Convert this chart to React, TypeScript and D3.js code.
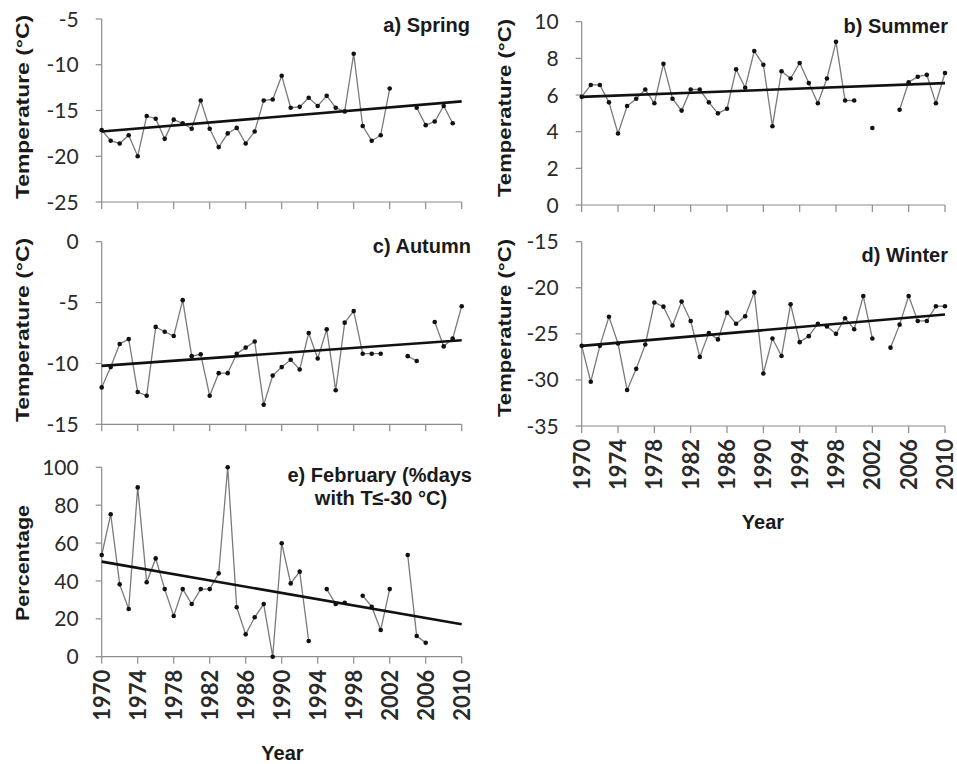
import React from 'react';
import * as d3 from 'd3';

// years 1970..2010, null = missing year
const years = d3.range(1970, 2011);
const trendYears = [1970, 2010];

const spring = [-17.15, -18.3, -18.6, -17.7, -20.0, -15.6, -15.9, -18.1, -16.0, -16.4,
  -17.0, -13.9, -17.0, -19.0, -17.5, -16.9, -18.6, -17.3, -13.9, -13.8,
  -11.2, -14.7, -14.6, -13.6, -14.5, -13.4, -14.7, -15.1, -8.8, -16.7,
  -18.3, -17.7, -12.6, null, null, -14.7, -16.6, -16.2, -14.5, -16.4, null];
const springTrend = [-17.3, -14.0];

const summer = [5.9, 6.55, 6.55, 5.6, 3.9, 5.4, 5.8, 6.3, 5.55, 7.7,
  5.8, 5.15, 6.3, 6.3, 5.6, 5.0, 5.25, 7.4, 6.4, 8.4,
  7.65, 4.3, 7.3, 6.9, 7.75, 6.65, 5.55, 6.9, 8.9, 5.7,
  5.7, null, 4.2, null, null, 5.2, 6.7, 7.0, 7.1, 5.55, 7.2];
const summerTrend = [5.9, 6.65];

const autumn = [-11.97, -10.3, -8.4, -8.0, -12.35, -12.65, -7.0, -7.4, -7.75, -4.8,
  -9.4, -9.25, -12.65, -10.8, -10.8, -9.2, -8.7, -8.2, -13.4, -11.0,
  -10.3, -9.7, -10.5, -7.5, -9.6, -7.2, -12.2, -6.65, -5.7, -9.2,
  -9.2, -9.2, null, null, -9.4, -9.8, null, -6.6, -8.6, -7.95, -5.3];
const autumnTrend = [-10.2, -8.1];

const winter = [-26.3, -30.2, -26.3, -23.15, -26.05, -31.1, -28.8, -26.15, -21.6, -22.05,
  -24.1, -21.5, -23.6, -27.5, -24.9, -25.6, -22.7, -23.9, -23.1, -20.5,
  -29.3, -25.5, -27.4, -21.8, -25.9, -25.25, -23.9, -24.2, -25.0, -23.3,
  -24.5, -20.9, -25.5, null, -26.5, -24.0, -20.9, -23.6, -23.6, -22.0, -22.0];
const winterTrend = [-26.3, -22.9];

const february = [53.7, 75.2, 38.2, 25.2, 89.4, 39.3, 51.9, 35.7, 21.5, 35.7,
  27.8, 35.7, 35.7, 44.0, 100, 26.1, 11.8, 20.8, 27.8, 0,
  59.9, 38.7, 44.9, 8.3, null, 35.7, 27.8, 28.5, null, 32.2,
  26.4, 14.1, 35.7, null, 53.7, 10.9, 7.4, null, null, null, null];
const februaryTrend = [50.2, 17.1];

const xTicks = d3.range(1970, 2011, 4);

const tickFont = 'Lato, "Liberation Sans", sans-serif';
const boldFont = '"Liberation Sans", Arial, sans-serif';

interface PanelProps {
  values: (number | null)[];
  trend: number[];
  x0: number; x1: number; y0: number; y1: number;
  domain: [number, number];
  yTicks: number[];
  title: string;
  titleX: number; titleY: number;
  yTitle: string;
  yTitleX: number; yTitleY: number; yTitleLen: number;
  showYears?: boolean;
}

function Panel(p: PanelProps) {
  const { values, trend, x0, x1, y0, y1, domain, yTicks, showYears } = p;
  const x = d3.scaleLinear().domain([1970, 2010]).range([x0, x1]);
  const y = d3.scaleLinear().domain(domain).range([y1, y0]);
  const pts = years.map((yr, i) => ({ yr, v: values[i] }));
  const line = d3.line<{ yr: number; v: number | null }>()
    .defined(d => d.v != null)
    .x(d => x(d.yr))
    .y(d => y(d.v as number));
  const trendLine = d3.line<number>()
    .x((_, i) => x(trendYears[i]))
    .y(d => y(d));

  return (
    <g>
      <line x1={x0} x2={x0} y1={y(domain[1])} y2={y1} stroke="#8c8c8c" strokeWidth={1.2} />
      <line x1={x0} x2={x1} y1={y1} y2={y1} stroke="#8c8c8c" strokeWidth={1.2} />
      {yTicks.map(t => (
        <g key={'y' + t}>
          <line x1={x0 - 6} x2={x0} y1={y(t)} y2={y(t)} stroke="#8c8c8c" strokeWidth={1.2} />
          <text x={x0 - 23} y={y(t)} dy="0.36em" textAnchor="end" fontFamily={tickFont}
            fontSize={21} fill="#2a2a2a">{t}</text>
        </g>
      ))}
      {xTicks.map(t => (
        <g key={'x' + t}>
          <line x1={x(t)} x2={x(t)} y1={y1} y2={y1 + 7} stroke="#8c8c8c" strokeWidth={1.2} />
          {showYears && (
            <text transform={`translate(${x(t)},${y1 + 13}) rotate(-90)`} dy="0.36em" textAnchor="end"
              fontFamily={tickFont} fontWeight="bold" fontSize={22} fill="#2a2a2a">{t}</text>
          )}
        </g>
      ))}
      <text transform={`translate(${p.yTitleX},${p.yTitleY}) rotate(-90)`} textAnchor="middle"
        textLength={p.yTitleLen} lengthAdjust="spacingAndGlyphs"
        fontFamily={boldFont} fontWeight="bold" fontSize={19} fill="#1a1a1a">{p.yTitle}</text>
      <path d={line(pts) || ''} fill="none" stroke="#7a7a7a" strokeWidth={1.3} />
      <path d={trendLine(trend) || ''} fill="none" stroke="#111" strokeWidth={2.6} />
      {pts.filter(d => d.v != null).map(d => (
        <circle key={d.yr} cx={x(d.yr)} cy={y(d.v as number)} r={2.3} fill="#111" />
      ))}
      <text x={p.titleX} y={p.titleY} textAnchor="end"
        fontFamily={boldFont} fontWeight="bold" fontSize={20} fill="#1a1a1a">{p.title}</text>
    </g>
  );
}

export default function App() {
  return (
    <svg width={957} height={764} style={{ position: 'absolute', left: 0, top: 0, background: '#fff' }}>
      <Panel values={spring} trend={springTrend} x0={101.7} x1={461.7} y0={19} y1={202}
        domain={[-25, -5]} yTicks={d3.range(-25, -4, 5)} title="a) Spring" titleX={470} titleY={32}
        yTitle="Temperature (°C)" yTitleX={29} yTitleY={107} yTitleLen={184} />
      <Panel values={summer} trend={summerTrend} x0={581.7} x1={945} y0={21.7} y1={205}
        domain={[0, 10]} yTicks={d3.range(0, 11, 2)} title="b) Summer" titleX={948} titleY={33}
        yTitle="Temperature (°C)" yTitleX={511} yTitleY={108} yTitleLen={178} />
      <Panel values={autumn} trend={autumnTrend} x0={101.7} x1={461.7} y0={241.7} y1={424.3}
        domain={[-15, 0]} yTicks={d3.range(-15, 1, 5)} title="c) Autumn" titleX={471} titleY={253}
        yTitle="Temperature (°C)" yTitleX={29} yTitleY={330} yTitleLen={184} />
      <Panel values={winter} trend={winterTrend} x0={581.7} x1={945} y0={241.7} y1={426}
        domain={[-35, -15]} yTicks={d3.range(-35, -14, 5)} title="d) Winter" titleX={948} titleY={262}
        yTitle="Temperature (°C)" yTitleX={511} yTitleY={328} yTitleLen={178} showYears />
      <Panel values={february} trend={februaryTrend} x0={101.7} x1={461.7} y0={467.3} y1={656.7}
        domain={[0, 100]} yTicks={d3.range(0, 101, 20)} title="e) February (%days" titleX={472} titleY={482}
        yTitle="Percentage" yTitleX={29} yTitleY={563} yTitleLen={116} showYears />
      <text x={381} y={505} textAnchor="middle" fontFamily={boldFont} fontWeight="bold" fontSize={20} fill="#1a1a1a">with T≤-30 °C)</text>
      <text x={282.5} y={760} textAnchor="middle" fontFamily={boldFont} fontWeight="bold" fontSize={20} fill="#1a1a1a">Year</text>
      <text x={763} y={529} textAnchor="middle" fontFamily={boldFont} fontWeight="bold" fontSize={20} fill="#1a1a1a">Year</text>
    </svg>
  );
}
